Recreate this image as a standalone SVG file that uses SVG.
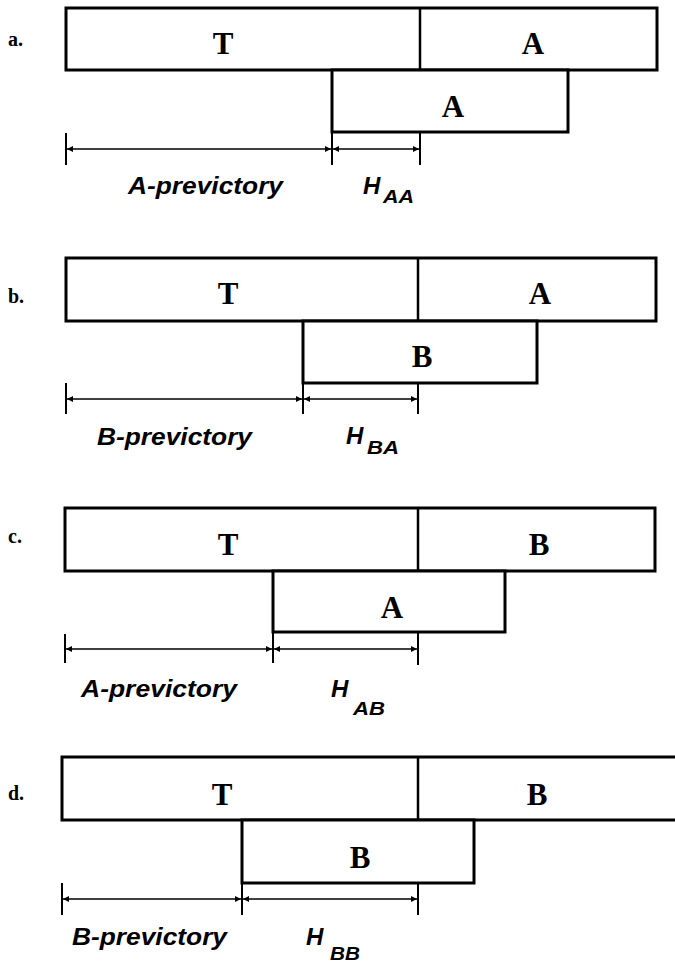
<svg xmlns="http://www.w3.org/2000/svg" width="675" height="963" viewBox="0 0 675 963">
<style>
.bar{fill:#fff;stroke:#000;stroke-width:3}
.div{stroke:#000;stroke-width:2.5}
.dim{stroke:#000;stroke-width:1.6;fill:none;marker-start:url(#ah);marker-end:url(#ah)}
.tick{stroke:#000;stroke-width:2}
.big{font-family:"Liberation Serif","Times New Roman",serif;font-weight:bold;font-size:31px;text-anchor:middle;fill:#000}
.pl{font-family:"Liberation Serif","Times New Roman",serif;font-weight:bold;font-size:20px;fill:#000}
.lab{font-family:"Liberation Sans",Arial,sans-serif;font-weight:bold;font-style:italic;font-size:24px;fill:#000}
.sub{font-family:"Liberation Sans",Arial,sans-serif;font-weight:bold;font-style:italic;font-size:19px;fill:#000}
</style>
<defs>
<marker id="ah" viewBox="0 0 10 10" refX="10" refY="5" markerWidth="9" markerHeight="6" markerUnits="userSpaceOnUse" orient="auto-start-reverse">
<path d="M0,0 L10,5 L0,10 z" fill="#000"/>
</marker>
</defs>
<rect width="675" height="963" fill="#fff"/>

<!-- Panel a -->
<g id="panel-a">
<text class="pl" x="8" y="46">a.</text>
<g id="a-top"><rect class="bar" x="66" y="8" width="591" height="62"/><line class="div" x1="420" y1="8" x2="420" y2="70"/>
<text class="big" x="223" y="54">T</text><text class="big" x="533" y="54">A</text></g>
<g id="a-low"><rect class="bar" x="332" y="70" width="236" height="62"/><text class="big" x="453" y="117">A</text></g>
<g id="a-dims">
<line class="tick" x1="66" y1="133" x2="66" y2="165"/><line class="tick" x1="332" y1="132" x2="332" y2="165"/><line class="tick" x1="420" y1="132" x2="420" y2="165"/>
<line class="dim" x1="67" y1="149" x2="331" y2="149"/><line class="dim" x1="333" y1="149" x2="419" y2="149"/>
<text class="lab" x="128" y="194" textLength="155" lengthAdjust="spacingAndGlyphs">A-previctory</text>
<text class="lab" x="363" y="194">H</text><text class="sub" x="383" y="203" textLength="31" lengthAdjust="spacingAndGlyphs">AA</text>
</g>
</g>

<!-- Panel b -->
<g id="panel-b">
<text class="pl" x="8" y="303">b.</text>
<g id="b-top"><rect class="bar" x="66" y="258" width="590" height="63"/><line class="div" x1="418" y1="258" x2="418" y2="321"/>
<text class="big" x="228" y="304">T</text><text class="big" x="540" y="304">A</text></g>
<g id="b-low"><rect class="bar" x="303" y="321" width="234" height="62"/><text class="big" x="422" y="367">B</text></g>
<g id="b-dims">
<line class="tick" x1="66" y1="383" x2="66" y2="414"/><line class="tick" x1="303" y1="383" x2="303" y2="414"/><line class="tick" x1="418" y1="383" x2="418" y2="414"/>
<line class="dim" x1="67" y1="399" x2="302" y2="399"/><line class="dim" x1="304" y1="399" x2="417" y2="399"/>
<text class="lab" x="97" y="445" textLength="155" lengthAdjust="spacingAndGlyphs">B-previctory</text>
<text class="lab" x="346" y="444">H</text><text class="sub" x="367" y="454" textLength="32" lengthAdjust="spacingAndGlyphs">BA</text>
</g>
</g>

<!-- Panel c -->
<g id="panel-c">
<text class="pl" x="8" y="543">c.</text>
<g id="c-top"><rect class="bar" x="65" y="508" width="590" height="63"/><line class="div" x1="418" y1="508" x2="418" y2="571"/>
<text class="big" x="228" y="555">T</text><text class="big" x="539" y="555">B</text></g>
<g id="c-low"><rect class="bar" x="273" y="571" width="232" height="61"/><text class="big" x="392" y="618">A</text></g>
<g id="c-dims">
<line class="tick" x1="65" y1="634" x2="65" y2="663"/><line class="tick" x1="273" y1="632" x2="273" y2="663"/><line class="tick" x1="418" y1="632" x2="418" y2="665"/>
<line class="dim" x1="66" y1="649" x2="272" y2="649"/><line class="dim" x1="274" y1="649" x2="417" y2="649"/>
<text class="lab" x="81" y="697" textLength="156" lengthAdjust="spacingAndGlyphs">A-previctory</text>
<text class="lab" x="331" y="697">H</text><text class="sub" x="353" y="715" textLength="32" lengthAdjust="spacingAndGlyphs">AB</text>
</g>
</g>

<!-- Panel d -->
<g id="panel-d">
<text class="pl" x="8" y="800">d.</text>
<g id="d-top"><path class="bar" d="M680,757 L62,757 L62,820 L680,820"/><line class="div" x1="418" y1="757" x2="418" y2="820"/>
<text class="big" x="222" y="805">T</text><text class="big" x="537" y="805">B</text></g>
<g id="d-low"><rect class="bar" x="242" y="820" width="232" height="63"/><text class="big" x="360" y="868">B</text></g>
<g id="d-dims">
<line class="tick" x1="62" y1="883" x2="62" y2="915"/><line class="tick" x1="242" y1="883" x2="242" y2="915"/><line class="tick" x1="418" y1="883" x2="418" y2="915"/>
<line class="dim" x1="63" y1="899" x2="241" y2="899"/><line class="dim" x1="243" y1="899" x2="417" y2="899"/>
<text class="lab" x="72" y="945" textLength="155" lengthAdjust="spacingAndGlyphs">B-previctory</text>
<text class="lab" x="306" y="945">H</text><text class="sub" x="330" y="960" textLength="30" lengthAdjust="spacingAndGlyphs">BB</text>
</g>
</g>
</svg>
